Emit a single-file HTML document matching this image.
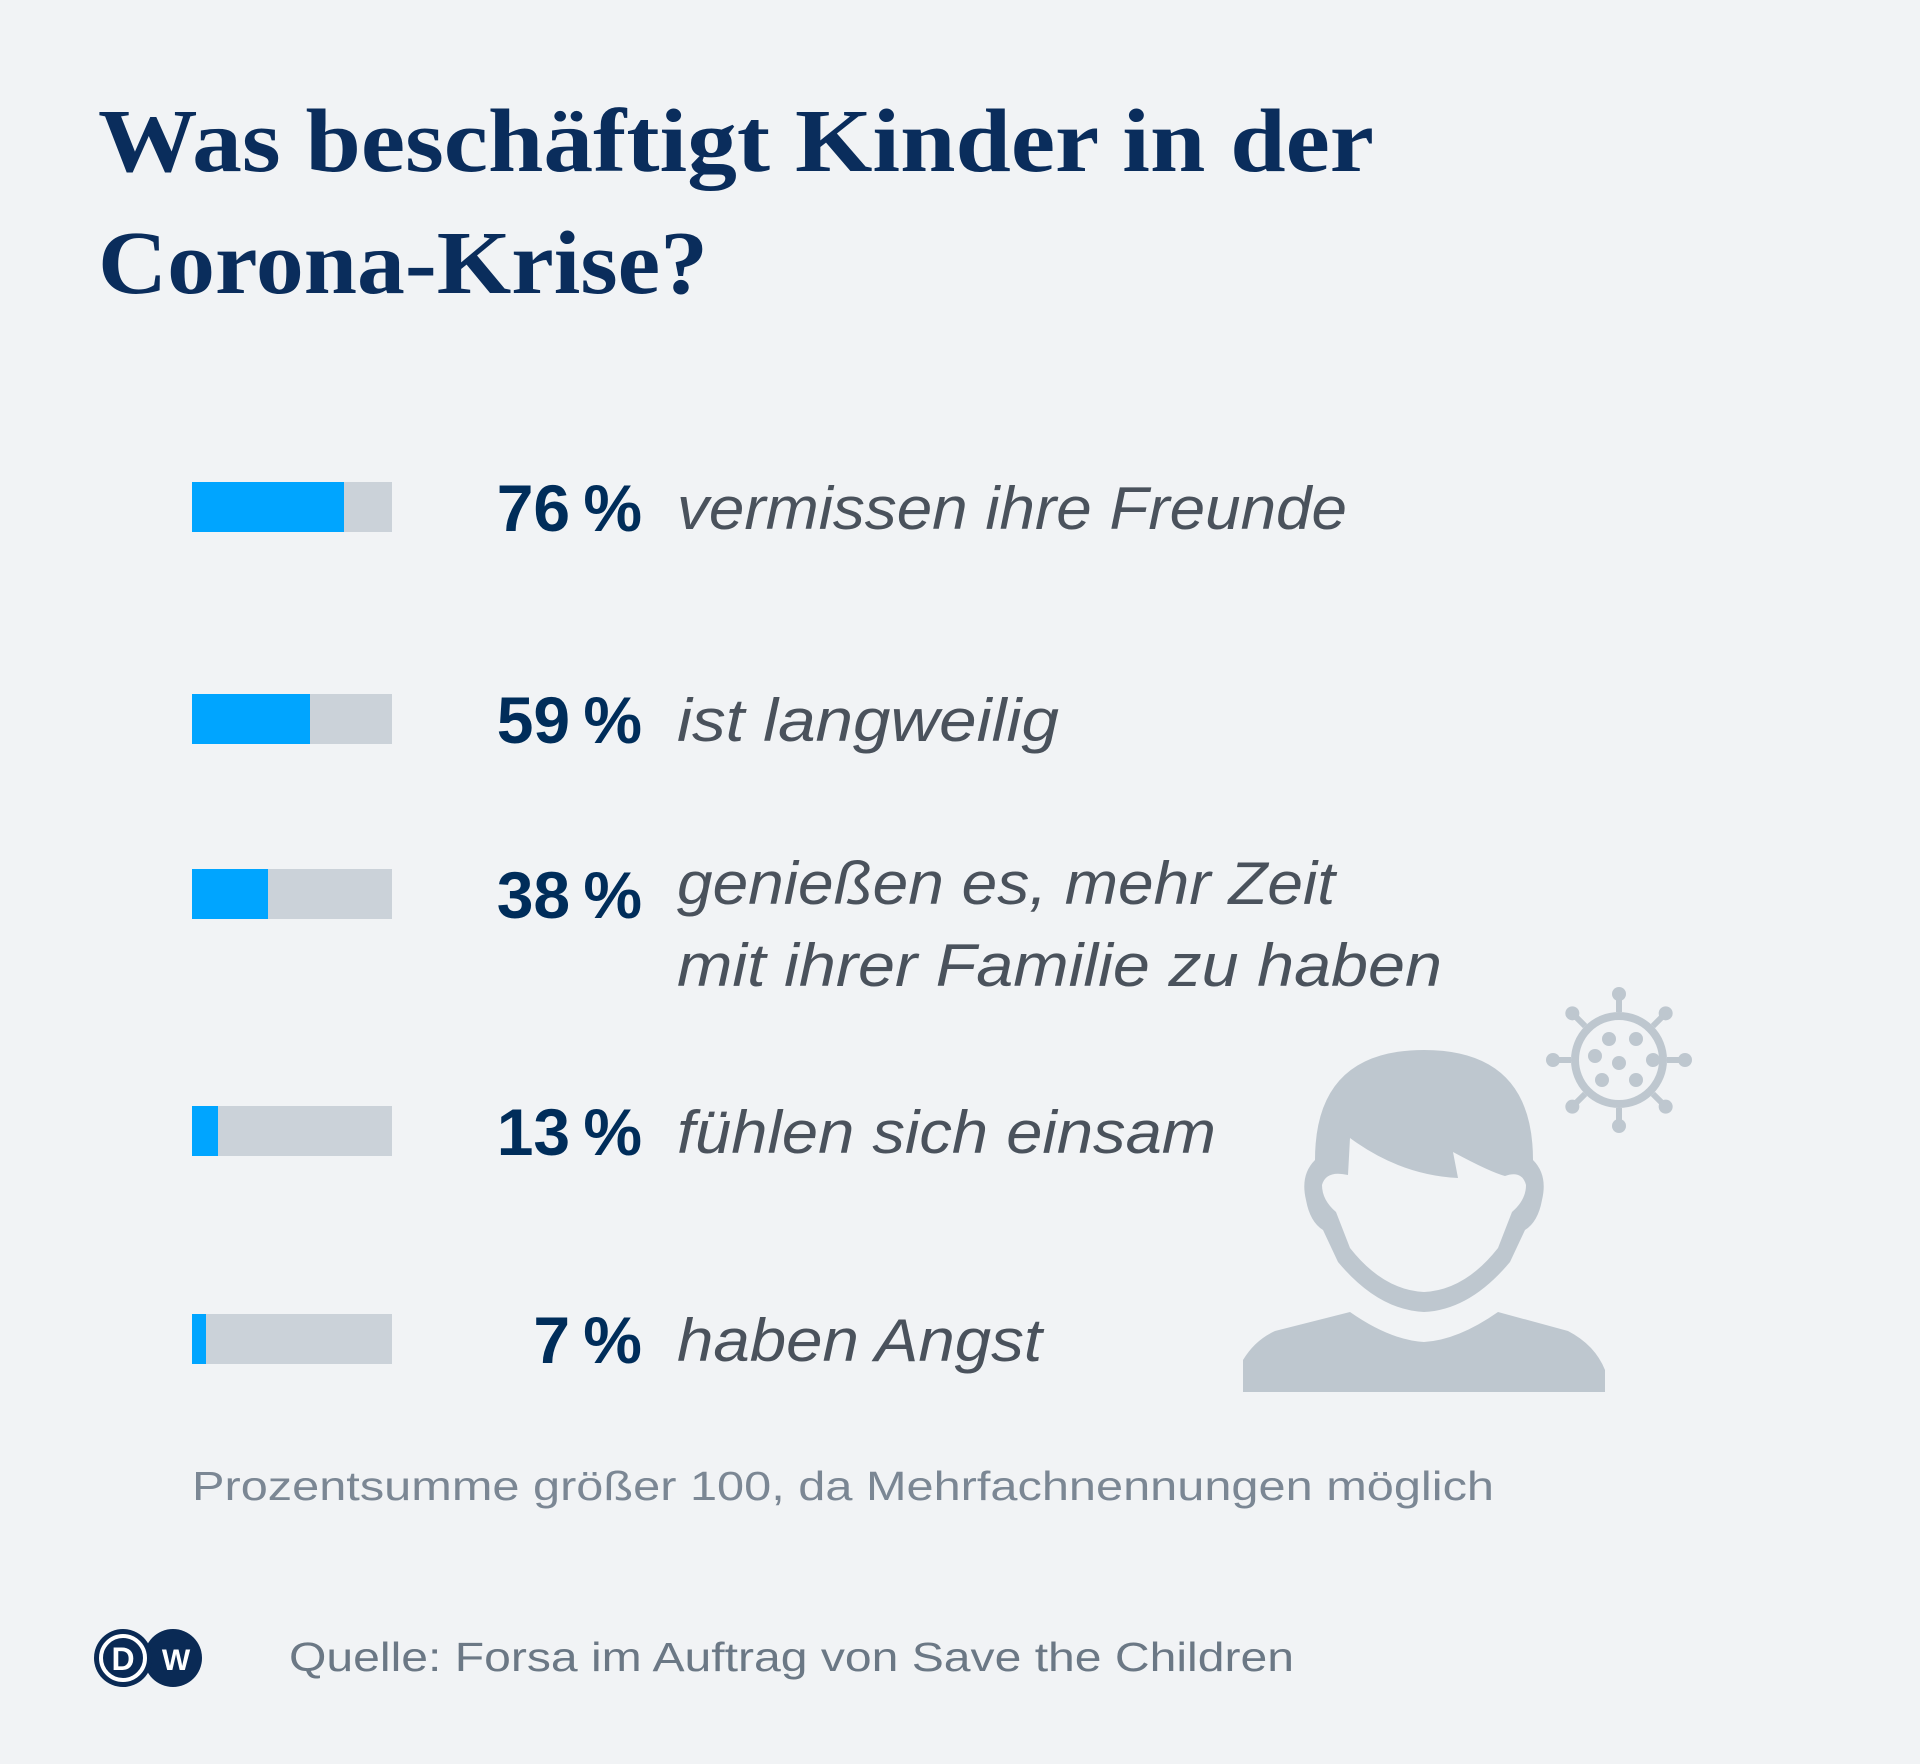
<!DOCTYPE html>
<html><head><meta charset="utf-8"><style>
html,body{margin:0;padding:0;background:#f1f3f5;}
svg{display:block}
</style></head><body>
<svg width="1920" height="1764" viewBox="0 0 1920 1764" xmlns="http://www.w3.org/2000/svg">
<rect width="1920" height="1764" fill="#f1f3f5"/>
<g font-family="'Liberation Serif', serif" font-weight="bold" fill="#0a2d5c" font-size="90">
<text x="98" y="171" textLength="1276" lengthAdjust="spacingAndGlyphs">Was beschäftigt Kinder in der</text>
<text x="98" y="293" textLength="610" lengthAdjust="spacingAndGlyphs">Corona-Krise?</text>
</g>
<g id="bars"></g>
<g fill="#bec7cf">
<path d="M1243 1392 L1243 1360 Q1255 1340 1275 1331 L1350 1312 Q1390 1340 1424 1342 Q1458 1340 1498 1312 L1568 1331 Q1595 1345 1605 1370 L1605 1392 Z"/>
<path d="M1315 1160 Q1315 1050 1424 1050 Q1533 1050 1533 1160 Q1548 1175 1542 1200 Q1538 1222 1525 1230 L1510 1262 Q1470 1310 1424 1312 Q1378 1310 1338 1262 L1323 1230 Q1310 1222 1306 1200 Q1300 1175 1315 1160 Z"/>
<path fill="#f1f3f5" d="M1350 1138 Q1400 1175 1458 1178 L1453 1152 Q1490 1172 1505 1176 Q1522 1170 1526 1185 Q1526 1200 1512 1212 L1498 1248 Q1465 1290 1424 1292 Q1383 1290 1350 1248 L1336 1212 Q1322 1200 1322 1185 Q1326 1170 1348 1175 Z"/>
</g>
<g id="virus" transform="translate(1619,1060)" fill="#bec7cf" stroke="#bec7cf"></g>
<text x="192" y="1500" font-family="'Liberation Sans', sans-serif" font-size="41" fill="#7b8794" textLength="1302" lengthAdjust="spacingAndGlyphs">Prozentsumme größer 100, da Mehrfachnennungen möglich</text>
<g>
<circle cx="173" cy="1658" r="29" fill="#0a2a55"/>
<circle cx="123" cy="1658" r="29" fill="#0a2a55"/>
<circle cx="123" cy="1658" r="22" fill="none" stroke="#fff" stroke-width="4"/>
<text x="123" y="1670" text-anchor="middle" font-family="'Liberation Sans', sans-serif" font-weight="bold" font-size="32" fill="#fff">D</text>
<text x="176" y="1670" text-anchor="middle" font-family="'Liberation Sans', sans-serif" font-weight="bold" font-size="30" fill="#fff">W</text>
</g>
<text x="289" y="1671" font-family="'Liberation Sans', sans-serif" font-size="41" fill="#6b7885" textLength="1005" lengthAdjust="spacingAndGlyphs">Quelle: Forsa im Auftrag von Save the Children</text>
</svg>
<script>
const categories = ["vermissen ihre Freunde","ist langweilig","genießen es, mehr Zeit|mit ihrer Familie zu haben","fühlen sich einsam","haben Angst"];
const values = [76,59,38,13,7];
const pctLabels = ["76%","59%","38%","13%","7%"];
const NS="http://www.w3.org/2000/svg";
const g=document.getElementById('bars');
const rowTop=[482,694,869,1106,1314];
const labelW=[[670],[382],[658,765],[539],[365]];
const x0=192, bw=200, bh=50;
function xs(v){return bw*v/100;}
function mk(t,a){const e=document.createElementNS(NS,t);for(const k in a)e.setAttribute(k,a[k]);return e;}
values.forEach((v,i)=>{
  const y=rowTop[i];
  const bg=mk('rect',{x:x0,y:y,width:bw,height:bh,fill:'#cbd2d9'});
  
  
  g.appendChild(bg);
  const r=mk('rect',{x:x0,y:y,width:xs(v),height:bh,fill:'#00a5ff'});
  
  
  g.appendChild(r);
  const t=mk('text',{x:642,y:y+49,'text-anchor':'end','font-family':"'Liberation Sans', sans-serif",'font-weight':'bold','font-size':'66',fill:'#002d5a'});
  t.textContent=pctLabels[i].replace('%','\u2009%');
  
  
  g.appendChild(t);
  const lines=categories[i].split('|');
  lines.forEach((ln,j)=>{
    const lt=mk('text',{x:677,y:(lines.length>1?y+35+j*82:y+47),'font-family':"'Liberation Sans', sans-serif",'font-style':'italic','font-size':'60',fill:'#4a525c',textLength:labelW[i][j],lengthAdjust:'spacingAndGlyphs'});
    lt.textContent=ln;
    
    
    g.appendChild(lt);
  });
});
const vg=document.getElementById('virus');
vg.appendChild(mk('circle',{r:44,fill:'none','stroke-width':8}));
for(let k=0;k<8;k++){
  const a=k*Math.PI/4;
  vg.appendChild(mk('line',{x1:48*Math.sin(a),y1:-48*Math.cos(a),x2:66*Math.sin(a),y2:-66*Math.cos(a),'stroke-width':6}));
  vg.appendChild(mk('circle',{cx:66*Math.sin(a),cy:-66*Math.cos(a),r:7,stroke:'none'}));
}
[[-10,-21],[17,-21],[-24,-4],[0,3],[34,0],[-17,20],[17,20]].forEach(p=>vg.appendChild(mk('circle',{cx:p[0],cy:p[1],r:7,stroke:'none'})));
</script>
</body></html>
